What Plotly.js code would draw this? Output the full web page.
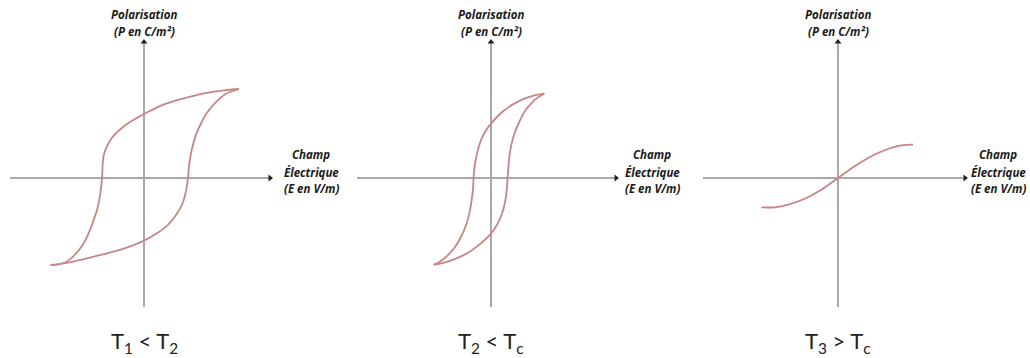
<!DOCTYPE html>
<html>
<head>
<meta charset="utf-8">
<script src="https://cdn.plot.ly/plotly-3.0.1.min.js"></script>
<style>html,body{margin:0;padding:0;background:#fff;}#chart{width:1030px;height:358px;}</style>
</head>
<body>
<div id="chart"></div>
<script>
// Panel 1: T1 < T2 (wide hysteresis loop) — E, P in arbitrary units
const up1E = [95, 80, 60, 40, 20, 0, -13.3, -23.3, -31.7, -36.7, -40, -41.3, -42, -42.7, -44, -46.7, -50, -55, -61.7, -70, -78.3, -86.7, -93.3];
const up1P = [89, 87.7, 84.7, 79.7, 73.7, 64, 56.4, 49, 40.7, 32.4, 24, 14, 0, -7.6, -17.6, -31, -41, -54.3, -67.6, -77.6, -84.3, -86.6, -87];
const lo1E = [-93.3, -80, -66.7, -50, -33.3, -16.7, 0, 13.3, 23.3, 31.7, 38.3, 41.7, 44, 44.7, 46, 48.3, 51.7, 56.7, 63.3, 71.7, 81.7, 95];
const lo1P = [-87, -85.3, -82.6, -78.6, -74.3, -69.3, -62.6, -55, -47.6, -37.6, -26, -14.3, 0, 9, 19, 30.7, 42.4, 54, 65.7, 75.7, 84, 89];
// Panel 2: T2 < Tc (narrow loop)
const up2E = [53.3, 43.3, 33.3, 23.3, 13.3, 5, 0, -5, -9.4, -12.7, -15, -16.7, -17.4, -18, -19.4, -21.7, -25, -30, -36.7, -45, -51.7, -57.4];
const up2P = [84.4, 82.7, 79.4, 74.4, 67.7, 60, 54.4, 47.7, 39.4, 29.4, 19.4, 9.4, 0, -10.6, -22.3, -35.6, -47.3, -59, -70, -79, -84, -86.6];
const lo2E = [-57.4, -46.7, -35, -23.4, -11.7, 0, 6.6, 11.6, 14.6, 16, 16.6, 17.3, 18.3, 20.6, 24, 28.3, 33.3, 40, 46.6, 53.3];
const lo2P = [-86.6, -84.6, -80.6, -75, -66.6, -55.6, -45.6, -34, -20.6, -9, 0, 9.4, 21, 34.4, 46, 56, 66, 74.4, 80.4, 84.4];
// Panel 3: T3 > Tc (no hysteresis)
const curve3E = [-76.6, -63.3, -50, -33.3, -16.7, 0, 16.7, 33.3, 50, 63.3, 75];
const curve3P = [-29.3, -29.3, -26.7, -20.7, -11.7, 0, 11.7, 21.7, 29, 32.7, 33.3];

const panelLabels = ["T<sub>1</sub> < T<sub>2</sub>", "T<sub>2</sub> < T<sub>c</sub>", "T<sub>3</sub> > T<sub>c</sub>"];
const yTitleLines = ["Polarisation", "(P en C/m²)"];
const xTitleLines = ["Champ", "Électrique", "(E en V/m)"];

const curveColor = "#c98585";
const axisColor = "#a9a9a9";
const W = 1030, H = 358;

const lineStyle = {color: curveColor, width: 1.8, shape: "spline", smoothing: 0.9};
const curves = [
  [up1E, up1P, ""], [lo1E, lo1P, ""],
  [up2E, up2P, "2"], [lo2E, lo2P, "2"],
  [curve3E, curve3P, "3"]
];
const traces = curves.map(c => ({type: "scatter", mode: "lines", x: c[0], y: c[1], xaxis: "x" + c[2], yaxis: "y" + c[2],
  line: lineStyle, hoverinfo: "skip", showlegend: false}));

// pixel layout of each panel: x extent, origin, x-title centre
const panels = [
  {x0: 10, x1: 272, ox: 144, tx: 311},
  {x0: 357, x1: 618, ox: 491, tx: 652},
  {x0: 703, x1: 967, ox: 838, tx: 998}
];
const yTop = 40, yBot = 307, oy = 178;

const layout = {
  width: W, height: H,
  margin: {l: 0, r: 0, t: 0, b: 0},
  paper_bgcolor: "#fff", plot_bgcolor: "#fff",
  showlegend: false,
  annotations: []
};

const lblFont = {family: "'Open Sans', sans-serif", size: 11.5, color: "#1a1a1a", weight: "bold", style: "italic"};

panels.forEach((p, i) => {
  const sx = i === 0 ? "" : String(i + 1);
  const xr = [p.x0 - p.ox, p.x1 - p.ox];
  const yr = [oy - yBot, oy - yTop];
  const common = {showgrid: false, showticklabels: false, ticks: "", showline: false,
                  zeroline: true, zerolinecolor: axisColor, zerolinewidth: 1.2, fixedrange: true};
  layout["xaxis" + sx] = Object.assign({}, common, {domain: [p.x0 / W, p.x1 / W], range: xr, anchor: "y" + sx});
  layout["yaxis" + sx] = Object.assign({}, common, {domain: [(H - yBot) / H, (H - yTop) / H], range: yr, anchor: "x" + sx});
  // arrow heads as markers at the axis ends
  traces.push({type: "scatter", mode: "markers", x: [0], y: [yr[1] - 2], xaxis: "x" + sx, yaxis: "y" + sx, cliponaxis: false,
    marker: {symbol: "triangle-up", size: 6, color: "#222"}, hoverinfo: "skip", showlegend: false});
  traces.push({type: "scatter", mode: "markers", x: [xr[1] - 2], y: [0], xaxis: "x" + sx, yaxis: "y" + sx, cliponaxis: false,
    marker: {symbol: "triangle-right", size: 6, color: "#222"}, hoverinfo: "skip", showlegend: false});
  [14.5, 31.5].forEach((yy, k) => {
    layout.annotations.push({xref: "paper", yref: "paper", x: p.ox / W, y: (H - yy) / H, xanchor: "center", yanchor: "middle",
      text: yTitleLines[k], showarrow: false, font: lblFont});
  });
  [155, 172, 188].forEach((yy, k) => {
    layout.annotations.push({xref: "paper", yref: "paper", x: p.tx / W, y: (H - yy) / H, xanchor: "center", yanchor: "middle",
      text: xTitleLines[k], showarrow: false, font: lblFont});
  });
  layout.annotations.push({xref: "paper", yref: "paper", x: p.ox / W, y: (H - 342) / H, xanchor: "center", yanchor: "middle",
    text: panelLabels[i], showarrow: false, font: {family: "Lato, 'Open Sans', sans-serif", size: 22, color: "#222"}});
});

Plotly.newPlot("chart", traces, layout, {displayModeBar: false, staticPlot: true});
</script>
</body>
</html>
